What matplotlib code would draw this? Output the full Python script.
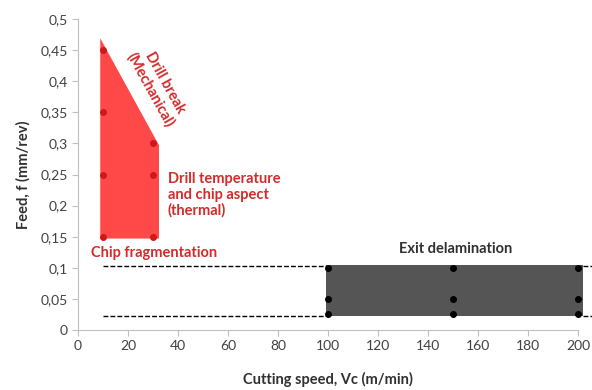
import numpy as np
import matplotlib.pyplot as plt

plt.rcParams['font.family'] = ['Lato', 'DejaVu Sans']

# red zone (drilling at low speed)
red_zone_x = [8.9, 8.9, 32.4, 32.4]
red_zone_f = [0.147, 0.469, 0.297, 0.147]
red_pts_x = [10, 10, 10, 10, 30, 30, 30]
red_pts_f = [0.15, 0.25, 0.35, 0.45, 0.15, 0.25, 0.3]

# grey zone (exit delamination)
grey_x = [99.2, 202.0]
grey_f = [0.023, 0.1045]
grey_pts_x = [100, 100, 100, 150, 150, 150, 200, 200, 200]
grey_pts_f = [0.025, 0.05, 0.1, 0.025, 0.05, 0.1, 0.025, 0.05, 0.1]

# dashed limits
dash_f = [0.103, 0.022]
dash_left = [10, 99.2]
dash_right = [202, 207]

xticks = np.arange(0, 201, 20)
yticks = np.arange(0, 0.501, 0.05)
ylabels = ['0', '0,05', '0,1', '0,15', '0,2', '0,25', '0,3', '0,35', '0,4', '0,45', '0,5']

fig = plt.figure(figsize=(5.92, 3.9), dpi=100)
ax = fig.add_axes([78/592, 1-330/390, 500/592, 311/390])

red = '#ff4848'
red_txt = '#d42a2a'

ax.fill(red_zone_x, red_zone_f, color=red, lw=0, zorder=2)
ax.plot(red_pts_x, red_pts_f, 'o', color='#d01818', ms=4, zorder=3)

ax.fill_between(grey_x, grey_f[0], grey_f[1], color='#555555', lw=0, zorder=2, clip_on=False)
ax.plot(grey_pts_x, grey_pts_f, 'o', color='black', ms=4, zorder=3, clip_on=False)

for f in dash_f:
    ax.plot(dash_left, [f, f], '--', color='black', lw=1, dashes=(3.5, 1.5), zorder=1)
    ax.plot(dash_right, [f, f], '--', color='black', lw=1, dashes=(3.5, 1.5), zorder=1, clip_on=False)

ax.set_xlim(0, 200)
ax.set_ylim(0, 0.5)
ax.set_xticks(xticks)
ax.set_yticks(yticks)
ax.set_yticklabels(ylabels)
for s in ['top', 'right']:
    ax.spines[s].set_visible(False)
for s in ['left', 'bottom']:
    ax.spines[s].set_color('#bfbfbf')
ax.tick_params(colors='#bfbfbf', labelcolor='#404040', labelsize=10, length=4)

ax.set_xlabel('Cutting speed, Vc (m/min)', fontsize=10.5, fontweight='bold', color='#303030', labelpad=14)
ax.set_ylabel('Feed, f (mm/rev)', fontsize=10.5, fontweight='bold', color='#303030', labelpad=7)

ax.text(31.8, 0.392, 'Drill break\n(Mechanical)', color=red_txt, fontsize=10.5, fontweight='bold',
        rotation=-61, ha='center', va='center', linespacing=1.15)
ax.text(36, 0.254, 'Drill temperature\nand chip aspect\n(thermal)', color=red_txt, fontsize=10.5,
        fontweight='bold', ha='left', va='top', linespacing=1.15)
ax.text(5.2, 0.124, 'Chip fragmentation', color=red_txt, fontsize=10.5, fontweight='bold',
        ha='left', va='center')
ax.text(151, 0.13, 'Exit delamination', color='#303030', fontsize=10.5, fontweight='bold',
        ha='center', va='center')

fig.savefig('out.png', dpi=100)
